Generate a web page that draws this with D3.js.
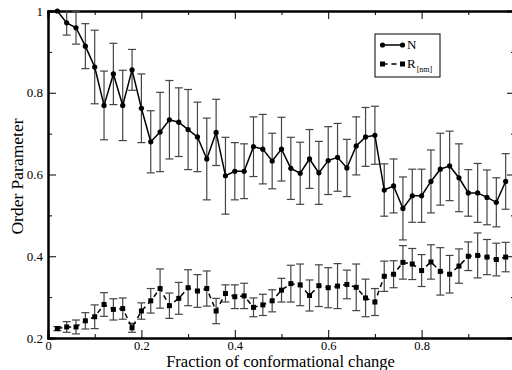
<!DOCTYPE html>
<html>
<head>
<meta charset="utf-8">
<script src="https://cdn.jsdelivr.net/npm/d3@7/dist/d3.min.js"></script>
<style>
  body { margin: 0; background: #fff; }
  svg { display: block; }
</style>
</head>
<body>
<div class="chart"></div>
<script>
// fraction of conformational change (x positions)
var xFrac = [0.02, 0.04, 0.06, 0.08, 0.10, 0.12, 0.14, 0.16, 0.18, 0.20,
  0.22, 0.24, 0.26, 0.28, 0.30, 0.32, 0.34, 0.36, 0.38, 0.40,
  0.42, 0.44, 0.46, 0.48, 0.50, 0.52, 0.54, 0.56, 0.58, 0.60,
  0.62, 0.64, 0.66, 0.68, 0.70, 0.72, 0.74, 0.76, 0.78, 0.80,
  0.82, 0.84, 0.86, 0.88, 0.90, 0.92, 0.94, 0.96, 0.98];

// order parameter N
var nVal = [1.000, 0.971, 0.959, 0.914, 0.863, 0.769, 0.846, 0.769, 0.856, 0.762,
  0.680, 0.704, 0.734, 0.728, 0.710, 0.692, 0.638, 0.703, 0.597, 0.608,
  0.608, 0.668, 0.662, 0.633, 0.662, 0.615, 0.603, 0.638, 0.604, 0.634,
  0.642, 0.616, 0.670, 0.692, 0.696, 0.562, 0.572, 0.517, 0.548, 0.548,
  0.583, 0.613, 0.621, 0.592, 0.555, 0.555, 0.544, 0.532, 0.583];
var nErr = [0, 0.03, 0.04, 0.055, 0.09, 0.084, 0.075, 0.086, 0.05, 0.084,
  0.076, 0.097, 0.096, 0.084, 0.098, 0.085, 0.10, 0.081, 0.094, 0.07,
  0.067, 0.073, 0.085, 0.068, 0.078, 0.076, 0.076, 0.072, 0.077, 0.083,
  0.083, 0.07, 0.071, 0.072, 0.071, 0.064, 0.066, 0.077, 0.065, 0.065,
  0.077, 0.088, 0.085, 0.083, 0.057, 0.072, 0.067, 0.06, 0.068];

// order parameter R [nm]
var rVal = [0.223, 0.227, 0.227, 0.242, 0.252, 0.282, 0.270, 0.272, 0.225, 0.266,
  0.291, 0.321, 0.279, 0.297, 0.323, 0.315, 0.321, 0.266, 0.309, 0.301,
  0.303, 0.275, 0.281, 0.291, 0.317, 0.333, 0.330, 0.304, 0.328, 0.323,
  0.327, 0.331, 0.324, 0.298, 0.288, 0.351, 0.356, 0.385, 0.381, 0.365,
  0.386, 0.363, 0.356, 0.376, 0.400, 0.402, 0.398, 0.392, 0.398];
var rErr = [0.005, 0.013, 0.017, 0.02, 0.029, 0.029, 0.026, 0.026, 0.011, 0.02,
  0.03, 0.048, 0.031, 0.039, 0.044, 0.04, 0.043, 0.031, 0.021, 0.029,
  0.031, 0.023, 0.026, 0.027, 0.029, 0.045, 0.051, 0.038, 0.051, 0.049,
  0.055, 0.035, 0.057, 0.046, 0.033, 0.037, 0.033, 0.041, 0.038, 0.039,
  0.042, 0.058, 0.046, 0.042, 0.035, 0.055, 0.043, 0.04, 0.036];

// tick labels
var xTicks = [0, 0.2, 0.4, 0.6, 0.8];
var xMinor = [0.1, 0.3, 0.5, 0.7, 0.9];
var yTicks = [0.2, 0.4, 0.6, 0.8, 1];
var yMinor = [0.3, 0.5, 0.7, 0.9];

var serif = "'Liberation Serif', 'Times New Roman', Times, serif";

var svgWidth = 512;
var svgHeight = 370;
var margin = { top: 11, right: -3, bottom: 32, left: 48 };
var width = svgWidth - margin.left - margin.right;
var height = svgHeight - margin.top - margin.bottom;

var svg = d3.select(".chart")
  .append("svg")
  .attr("width", svgWidth)
  .attr("height", svgHeight)
  .style("font-family", serif);

var chartGroup = svg.append("g")
  .attr("transform", `translate(${margin.left}, ${margin.top})`);

var xScale = d3.scaleLinear().domain([0, 1]).range([0, width]);
var yScale = d3.scaleLinear().domain([0.2, 1]).range([height, 0]);

var fmt = d3.format("~g");

// helper: add an axis group and style it
function addAxis(axis, transform, size) {
  var g = chartGroup.append("g").attr("transform", transform || null).call(axis);
  g.attr("font-family", serif);
  g.select(".domain").attr("stroke", "#000").attr("stroke-width", 2);
  g.selectAll(".tick line").attr("stroke", "#000").attr("stroke-width", 1);
  g.selectAll(".tick text").attr("fill", "#000")
    .style("font-family", serif).style("font-size", (size || 13) + "px");
  return g;
}

// axes with inward ticks on all four sides
addAxis(d3.axisBottom(xScale).tickValues(xTicks).tickSize(-8).tickPadding(3).tickFormat(fmt), `translate(0, ${height})`, 12.5);
addAxis(d3.axisBottom(xScale).tickValues(xMinor).tickSize(-4).tickFormat(""), `translate(0, ${height})`);
addAxis(d3.axisTop(xScale).tickValues(xTicks).tickSize(-8).tickFormat(""));
addAxis(d3.axisTop(xScale).tickValues(xMinor).tickSize(-4).tickFormat(""));
addAxis(d3.axisLeft(yScale).tickValues(yTicks).tickSize(-8).tickPadding(5).tickFormat(fmt));
addAxis(d3.axisLeft(yScale).tickValues(yMinor).tickSize(-4).tickFormat(""));
addAxis(d3.axisRight(yScale).tickValues(yTicks).tickSize(-8).tickFormat(""), `translate(${width}, 0)`);
addAxis(d3.axisRight(yScale).tickValues(yMinor).tickSize(-4).tickFormat(""), `translate(${width}, 0)`);

var nData = xFrac.map((x, i) => ({ x: x, y: nVal[i], e: nErr[i] }));
var rData = xFrac.map((x, i) => ({ x: x, y: rVal[i], e: rErr[i] }));

// error bars
function drawErrors(data) {
  var g = chartGroup.append("g")
    .attr("stroke", "#444")
    .attr("stroke-width", 1.2)
    .attr("fill", "none");
  var bars = g.selectAll("g").data(data.filter(d => d.e > 0)).enter().append("g");
  bars.append("line")
    .attr("x1", d => xScale(d.x)).attr("x2", d => xScale(d.x))
    .attr("y1", d => yScale(d.y + d.e)).attr("y2", d => yScale(d.y - d.e));
  bars.append("line")
    .attr("x1", d => xScale(d.x) - 4).attr("x2", d => xScale(d.x) + 4)
    .attr("y1", d => yScale(d.y + d.e)).attr("y2", d => yScale(d.y + d.e));
  bars.append("line")
    .attr("x1", d => xScale(d.x) - 4).attr("x2", d => xScale(d.x) + 4)
    .attr("y1", d => yScale(d.y - d.e)).attr("y2", d => yScale(d.y - d.e));
}
drawErrors(nData);
drawErrors(rData);

var line = d3.line().x(d => xScale(d.x)).y(d => yScale(d.y));

chartGroup.append("path")
  .datum(nData)
  .attr("d", line)
  .attr("fill", "none")
  .attr("stroke", "#000")
  .attr("stroke-width", 1.5);

chartGroup.append("path")
  .datum(rData)
  .attr("d", line)
  .attr("fill", "none")
  .attr("stroke", "#000")
  .attr("stroke-width", 1.5)
  .attr("stroke-dasharray", "5,4");

chartGroup.selectAll("circle.n")
  .data(nData)
  .enter()
  .append("circle")
  .attr("class", "n")
  .attr("cx", d => xScale(d.x))
  .attr("cy", d => yScale(d.y))
  .attr("r", 2.6)
  .attr("fill", "#000");

chartGroup.selectAll("rect.r")
  .data(rData)
  .enter()
  .append("rect")
  .attr("class", "r")
  .attr("x", d => xScale(d.x) - 2.5)
  .attr("y", d => yScale(d.y) - 2.5)
  .attr("width", 5)
  .attr("height", 5)
  .attr("fill", "#000");

// legend
var legend = svg.append("g").attr("transform", "translate(375, 34)");
legend.append("rect")
  .attr("width", 65).attr("height", 43)
  .attr("fill", "#fff").attr("stroke", "#000").attr("stroke-width", 1);
legend.append("line")
  .attr("x1", 7.5).attr("x2", 27.5).attr("y1", 11).attr("y2", 11)
  .attr("stroke", "#000").attr("stroke-width", 1.5);
legend.selectAll("circle").data([7.5, 27.5]).enter().append("circle")
  .attr("cx", d => d).attr("cy", 11).attr("r", 2.6).attr("fill", "#000");
legend.append("line")
  .attr("x1", 7.5).attr("x2", 27.5).attr("y1", 30).attr("y2", 30)
  .attr("stroke", "#000").attr("stroke-width", 1.5).attr("stroke-dasharray", "5,4");
legend.selectAll("rect.m").data([7.5, 27.5]).enter().append("rect")
  .attr("class", "m")
  .attr("x", d => d - 2.5).attr("y", 27.5).attr("width", 5).attr("height", 5).attr("fill", "#000");
legend.append("text")
  .attr("x", 32).attr("y", 15)
  .style("font-family", serif)
  .style("font-size", "13px")
  .text("N");
var rt = legend.append("text")
  .attr("x", 32).attr("y", 34)
  .style("font-family", serif)
  .style("font-size", "13px");
rt.append("tspan").text("R");
rt.append("tspan").attr("dy", 4).attr("dx", 1).style("font-size", "8px").text("[nm]");

// axis titles
chartGroup.append("text")
  .attr("x", 232.5)
  .attr("y", height + 28.5)
  .attr("text-anchor", "middle")
  .style("font-family", serif)
  .style("font-size", "16.5px")
  .text("Fraction of conformational change");

chartGroup.append("text")
  .attr("transform", "rotate(-90)")
  .attr("x", 0 - (height / 2) - 2)
  .attr("y", 0 - margin.left + 23)
  .attr("text-anchor", "middle")
  .style("font-family", serif)
  .style("font-size", "17.5px")
  .text("Order Parameter");
</script>
</body>
</html>
